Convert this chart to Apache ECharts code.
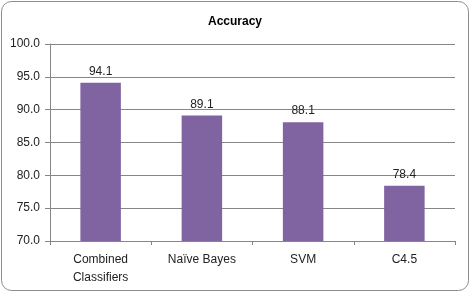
<!DOCTYPE html>
<html>
<head>
<meta charset="utf-8">
<script src="https://cdn.jsdelivr.net/npm/echarts@6/dist/echarts.min.js"></script>
<style>
  body { margin: 0; background: #fff; }
  #ec { width: 470px; height: 292px; }
</style>
</head>
<body>
<div id="ec"></div>
<script>
var categories = ["Combined\nClassifiers", "Naïve Bayes", "SVM", "C4.5"];
var accuracy = [94.1, 89.1, 88.1, 78.4];
var yMin = 70, yMax = 100, yStep = 5;

var myChart = echarts.init(document.getElementById("ec"));
var font = "Liberation Sans, Arial, sans-serif";

myChart.setOption({
  backgroundColor: "#fff",
  animation: false,
  title: {
    text: "Accuracy",
    left: "center",
    top: 11,
    textStyle: { fontSize: 12, fontWeight: "bold", color: "#000", fontFamily: font }
  },
  graphic: [
    {
      type: "rect",
      shape: { x: 1.5, y: 1.5, width: 467, height: 289, r: 10 },
      style: { fill: "none", stroke: "#8c8c8c", lineWidth: 1 },
      silent: true
    }
  ],
  grid: { left: 50, right: 15, top: 44, bottom: 51 },
  xAxis: {
    type: "category",
    data: categories,
    axisLine: { lineStyle: { color: "#868686" } },
    axisTick: { show: true, length: 4, lineStyle: { color: "#868686" } },
    axisLabel: { color: "#222", fontSize: 12, fontFamily: font, margin: 10, lineHeight: 18 }
  },
  yAxis: {
    type: "value",
    min: yMin,
    max: yMax,
    interval: yStep,
    axisLine: { show: true, lineStyle: { color: "#868686" } },
    axisTick: { show: true, length: 5, lineStyle: { color: "#868686" } },
    splitLine: { lineStyle: { color: "#868686" } },
    axisLabel: {
      color: "#222",
      fontSize: 12,
      fontFamily: font,
      margin: 10,
      formatter: function (v) { return v.toFixed(1); }
    }
  },
  series: [
    {
      type: "bar",
      data: accuracy,
      barWidth: "40%",
      itemStyle: { color: "#8064A2" },
      label: {
        show: true,
        position: "top",
        color: "#222",
        fontSize: 12,
        fontFamily: font,
        formatter: function (p) { return p.value.toFixed(1); }
      }
    }
  ]
});
</script>
</body>
</html>
